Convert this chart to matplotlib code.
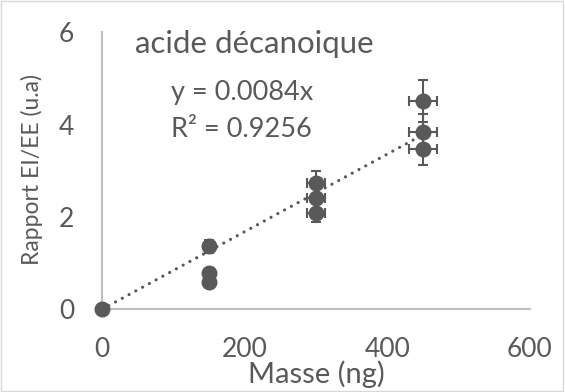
import matplotlib
matplotlib.use("Agg")
import matplotlib.pyplot as plt
from matplotlib.patches import Rectangle

# data
masse = [0, 150, 150, 150, 300, 300, 300, 450, 450, 450]
rapport = [0.0, 1.36, 0.79, 0.60, 2.73, 2.40, 2.09, 4.51, 3.84, 3.48]
x_err = [0, 6, 6, 6, 13, 13, 13, 20, 20, 20]
y_err = [0.0, 0.14, 0.08, 0.06, 0.27, 0.24, 0.21, 0.45, 0.38, 0.35]
slope = 0.0084
r2 = 0.9256
x_ticks = [0, 200, 400, 600]
y_ticks = [0, 2, 4, 6]

gray = "#595959"
axis_gray = "#bfbfbf"
plt.rcParams['font.family'] = ['Lato', 'DejaVu Sans']

fig = plt.figure(figsize=(5.65, 3.92), dpi=100)
fig.patch.set_facecolor("white")
fig.add_artist(Rectangle((0.002, 0.003), 0.995, 0.994, transform=fig.transFigure,
                         fill=False, edgecolor="#d9d9d9", linewidth=1.0))
ax = fig.add_axes([0.1805, 0.211, 0.7575, 0.707])

ax.errorbar(masse, rapport, xerr=x_err, yerr=y_err, fmt='o', color=gray,
            markersize=10.5, elinewidth=1.5, capsize=3.8, capthick=1.5,
            ecolor=gray, clip_on=False, zorder=3)

xs = [0, max(masse)]
ax.plot(xs, [slope * v for v in xs], linestyle=(0, (0.01, 2.4)), color=gray,
        linewidth=2.3, zorder=2, dash_capstyle='round')

ax.set_xlim(0, 600)
ax.set_ylim(0, 6)
ax.set_xticks(x_ticks)
ax.set_yticks(y_ticks)
ax.tick_params(length=0, labelsize=19, colors=gray)
ax.tick_params(axis='y', pad=20)
ax.tick_params(axis='x', pad=20)
for s in ['top', 'right']:
    ax.spines[s].set_visible(False)
for s in ['left', 'bottom']:
    ax.spines[s].set_color(axis_gray)
    ax.spines[s].set_linewidth(1.5)

ax.set_xlabel("Masse (ng)", fontsize=21, color=gray, va='baseline')
ax.xaxis.set_label_coords(0.502, -0.266)
ax.set_ylabel("Rapport EI/EE (u.a)", fontsize=16.5, color=gray, va='center')
ax.yaxis.set_label_coords(-0.1636, 0.506)

fig.text(0.239, 0.865, "acide décanoique", fontsize=22.5, color=gray, va='baseline', ha='left')
fig.text(0.303, 0.745, "y = 0.0084x", fontsize=19.5, color=gray, va='baseline', ha='left')
fig.text(0.303, 0.651, "R² = 0.9256", fontsize=19.5, color=gray, va='baseline', ha='left')

fig.savefig("out.png", dpi=100)
